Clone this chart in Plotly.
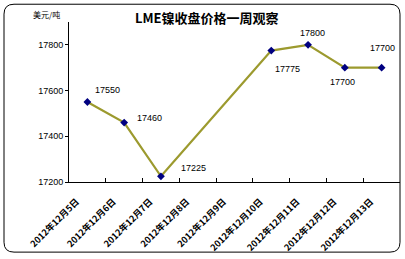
import plotly.graph_objects as go

categories = ["2012年12月5日", "2012年12月6日", "2012年12月7日", "2012年12月8日", "2012年12月9日",
              "2012年12月10日", "2012年12月11日", "2012年12月12日", "2012年12月13日"]
prices = [17550, 17460, 17225, None, None, 17775, 17800, 17700, 17700]
y_ticks = [17200, 17400, 17600, 17800]
# label offsets (pixels) relative to each point
label_dx = [20, 25, 33, 0, 0, 16, 4, -2, 1]
label_dy = [12, 5, 8, 0, 0, -18, 12, -14, 20]

W, H = 405, 259
L, R, T, B = 69, 5, 22, 75
pw, ph = W - L - R, H - T - B

def px(x):
    return (x - L) / pw

def py(y):
    return (H - B - y) / ph

fig = go.Figure()
fig.add_trace(go.Scatter(
    x=categories, y=prices, mode="lines+markers",
    connectgaps=True,
    line=dict(color="#9c9a2e", width=2.2),
    marker=dict(symbol="diamond", size=6, color="#000080"),
    cliponaxis=False,
    hoverinfo="skip",
))

for c, v, dx, dy in zip(categories, prices, label_dx, label_dy):
    if v is None:
        continue
    fig.add_annotation(x=c, y=v, xref="x", yref="y", text=str(v), showarrow=False,
                       xshift=dx, yshift=dy, xanchor="center", yanchor="middle",
                       font=dict(family="Liberation Sans, Arial", size=9, color="#000000"))

# rounded border
x0, x1, y0, y1, r = 4, 400, 4, 255, 10
path = (f"M {px(x0+r)},{py(y0)} L {px(x1-r)},{py(y0)} Q {px(x1)},{py(y0)} {px(x1)},{py(y0+r)} "
        f"L {px(x1)},{py(y1-r)} Q {px(x1)},{py(y1)} {px(x1-r)},{py(y1)} "
        f"L {px(x0+r)},{py(y1)} Q {px(x0)},{py(y1)} {px(x0)},{py(y1-r)} "
        f"L {px(x0)},{py(y0+r)} Q {px(x0)},{py(y0)} {px(x0+r)},{py(y0)} Z")
fig.add_shape(type="path", path=path, xref="paper", yref="paper",
              line=dict(color="#000000", width=1))

fig.add_annotation(text="<b>LME镍收盘价格一周观察</b>", xref="paper", yref="paper",
                   x=px(207), y=py(17), showarrow=False, xanchor="center", yanchor="middle",
                   font=dict(family="Noto Sans CJK SC", size=13, color="#000000"))
fig.add_annotation(text="美元/吨", xref="paper", yref="paper",
                   x=px(46), y=py(14), showarrow=False, xanchor="center", yanchor="middle",
                   font=dict(family="Noto Sans CJK SC", size=8, color="#000000"))

fig.update_layout(
    width=W, height=H,
    margin=dict(l=L, r=R, t=T, b=B),
    paper_bgcolor="#ffffff", plot_bgcolor="#ffffff",
    showlegend=False,
    font=dict(family="Liberation Sans, Arial", color="#000000"),
)
fig.update_xaxes(
    type="category", categoryorder="array", categoryarray=categories,
    tickvals=categories, ticktext=["<b>%s</b>" % c for c in categories],
    showgrid=False, showline=True, linecolor="#000000", linewidth=1,
    ticks="inside", ticklen=4, tickcolor="#000000", tickson="boundaries",
    tickangle=-45, ticklabelshift=-11, ticklabelstandoff=10,
    tickfont=dict(family="Noto Sans CJK SC", size=9, color="#000000"),
    range=[-0.5, 8.5],
)
fig.update_yaxes(
    range=[17200, 17900], tickvals=y_ticks, ticktext=[str(v) for v in y_ticks],
    showgrid=False, showline=True, linecolor="#000000", linewidth=1,
    ticks="outside", ticklen=3, tickcolor="#000000",
    tickfont=dict(family="Liberation Sans, Arial", size=9, color="#000000"),
    zeroline=False,
)

fig.write_html("out.html")
